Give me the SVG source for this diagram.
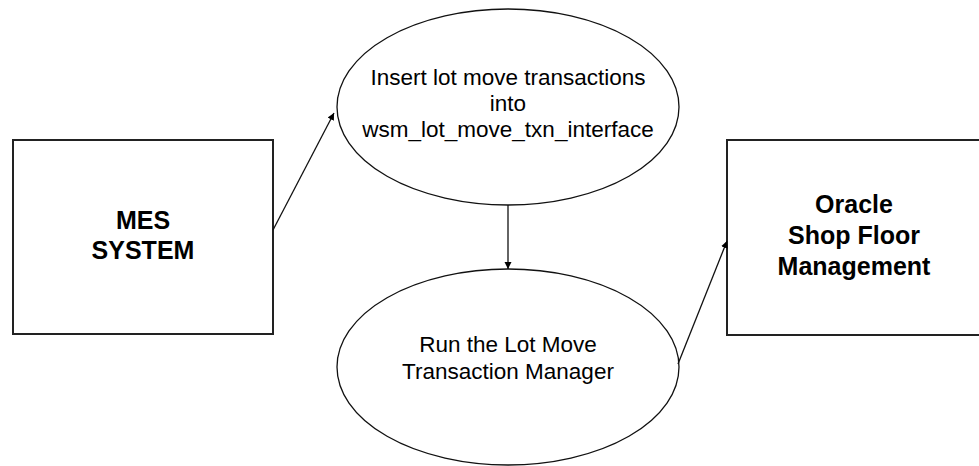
<svg xmlns="http://www.w3.org/2000/svg" width="979" height="466" viewBox="0 0 979 466">
<defs>
<marker id="ah" markerWidth="8" markerHeight="8" refX="7" refY="4" orient="auto" markerUnits="userSpaceOnUse">
<path d="M0,0.5 L7,4 L0,7.5 Z" fill="#000"/>
</marker>
<style>
.box{fill:#fff;stroke:#222;stroke-width:2}
.ell{fill:#fff;stroke:#111;stroke-width:1.3}
.conn{fill:none;stroke:#111;stroke-width:1.3}
.t{font-family:"Liberation Sans",Arial,sans-serif;font-size:22.5px;fill:#000;text-anchor:middle}
.b{font-family:"Liberation Sans",Arial,sans-serif;font-size:25px;font-weight:bold;fill:#000;text-anchor:middle}
</style>
</defs>
<rect width="979" height="466" fill="#fff"/>
<g id="mes">
<rect class="box" x="13" y="140" width="260" height="194"/>
<text class="b" x="143" y="229">MES</text>
<text class="b" x="143" y="259">SYSTEM</text>
</g>
<g id="insert">
<ellipse class="ell" cx="508" cy="107" rx="171" ry="98"/>
<text class="t" x="508" y="85">Insert lot move transactions</text>
<text class="t" x="508" y="111">into</text>
<text class="t" x="508" y="137">wsm_lot_move_txn_interface</text>
</g>
<g id="run">
<ellipse class="ell" cx="508" cy="367" rx="171" ry="98"/>
<text class="t" x="508" y="352">Run the Lot Move</text>
<text class="t" x="508" y="379">Transaction Manager</text>
</g>
<g id="oracle">
<rect class="box" x="727" y="140" width="256" height="195"/>
<text class="b" x="854" y="213">Oracle</text>
<text class="b" x="854" y="244">Shop Floor</text>
<text class="b" x="854" y="275">Management</text>
</g>
<g id="connectors">
<line class="conn" x1="273" y1="230" x2="334" y2="113" marker-end="url(#ah)"/>
<line class="conn" x1="508" y1="205" x2="508" y2="269" marker-end="url(#ah)"/>
<line class="conn" x1="678" y1="364" x2="727" y2="241" marker-end="url(#ah)"/>
</g>
</svg>
